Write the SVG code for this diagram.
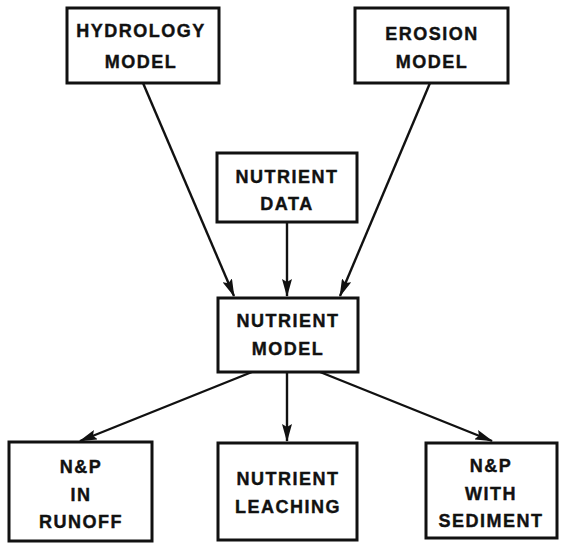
<svg xmlns="http://www.w3.org/2000/svg" width="561" height="544" viewBox="0 0 561 544">
  <style>
    .box { fill: #fff; stroke: #111; stroke-width: 3; }
    .lbl { font-family: "Liberation Sans", Arial, sans-serif; font-weight: bold; font-size: 18px; letter-spacing: 1.5px; fill: #111; stroke: #111; stroke-width: 0.4; text-anchor: middle; }
    .wire { stroke: #111; stroke-width: 2.4; fill: none; marker-end: url(#head); }
  </style>
  <defs>
    <marker id="head" viewBox="0 0 18 10" refX="17" refY="5" markerWidth="18" markerHeight="10" markerUnits="userSpaceOnUse" orient="auto">
      <path d="M0,0 L18,5 L0,10 L3,5 Z" fill="#111"/>
    </marker>
  </defs>
  <rect width="561" height="544" fill="#fff"/>

  <g id="connectors">
    <line class="wire" x1="143" y1="83" x2="234" y2="296"/>
    <line class="wire" x1="430" y1="83" x2="340" y2="296"/>
    <line class="wire" x1="287" y1="222" x2="287" y2="296"/>
    <line class="wire" x1="252" y1="372" x2="80" y2="441"/>
    <line class="wire" x1="287" y1="372" x2="287" y2="441"/>
    <line class="wire" x1="320" y1="372" x2="492" y2="441"/>
  </g>

  <g id="hydrology">
    <rect class="box" x="67" y="8" width="152" height="75"/>
    <text class="lbl" x="141" y="37">HYDROLOGY</text>
    <text class="lbl" x="141" y="68">MODEL</text>
  </g>
  <g id="erosion">
    <rect class="box" x="355" y="8" width="153" height="75"/>
    <text class="lbl" x="432" y="40">EROSION</text>
    <text class="lbl" x="432" y="68">MODEL</text>
  </g>
  <g id="nutrient-data">
    <rect class="box" x="217" y="153" width="140" height="69"/>
    <text class="lbl" x="287" y="183">NUTRIENT</text>
    <text class="lbl" x="287" y="210">DATA</text>
  </g>
  <g id="nutrient-model">
    <rect class="box" x="218" y="298" width="140" height="74"/>
    <text class="lbl" x="288" y="327">NUTRIENT</text>
    <text class="lbl" x="288" y="355">MODEL</text>
  </g>
  <g id="np-runoff">
    <rect class="box" x="9" y="442" width="143" height="99"/>
    <text class="lbl" x="81" y="473">N&amp;P</text>
    <text class="lbl" x="81" y="501">IN</text>
    <text class="lbl" x="81" y="528">RUNOFF</text>
  </g>
  <g id="nutrient-leaching">
    <rect class="box" x="218" y="443" width="139" height="97"/>
    <text class="lbl" x="288" y="485">NUTRIENT</text>
    <text class="lbl" x="288" y="513">LEACHING</text>
  </g>
  <g id="np-sediment">
    <rect class="box" x="426" y="443" width="131" height="95"/>
    <text class="lbl" x="491" y="472">N&amp;P</text>
    <text class="lbl" x="491" y="500">WITH</text>
    <text class="lbl" x="491" y="527">SEDIMENT</text>
  </g>
</svg>
